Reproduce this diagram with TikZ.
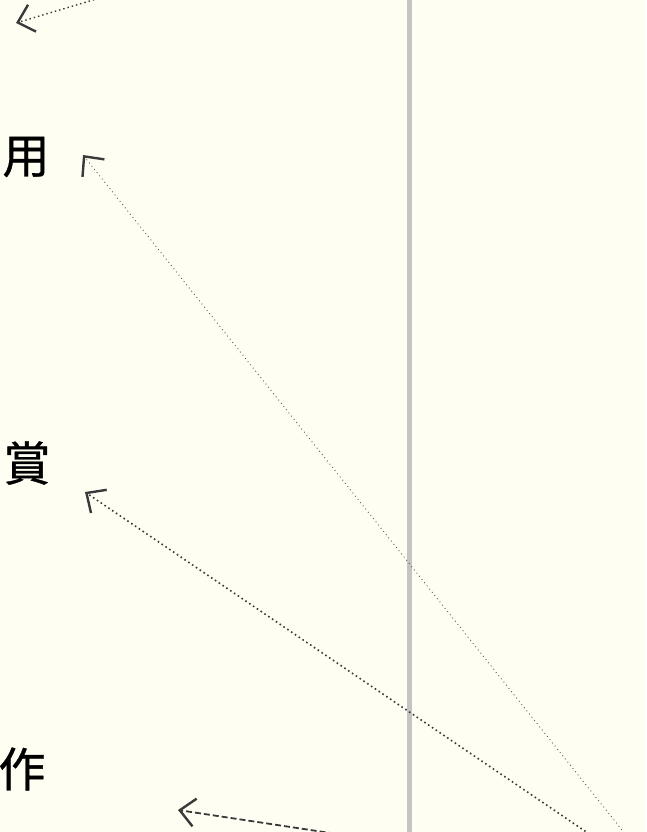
\documentclass[tikz,border=0pt]{standalone}
\usepackage{fontspec}
\newfontfamily\cjk[FakeBold=0.8]{Noto Sans CJK JP}
\usetikzlibrary{arrows.meta}
\definecolor{paper}{RGB}{254,254,243}
\definecolor{rail}{RGB}{196,196,196}
\definecolor{ink}{RGB}{58,58,58}
\tikzset{
	glyph/.style={font=\cjk\fontsize{47}{47}\selectfont, inner sep=0pt},
	barb/.style={-{Straight Barb[length=15pt,width=28pt,line width=2.4pt,color=ink]}},
}
\begin{document}
\begin{tikzpicture}[x=1pt,y=-1pt]
		\fill[paper] (0,0) rectangle (646,832);
		\useasboundingbox (0,0) rectangle (646,832);
		\draw[rail, line width=5pt] (409,0) -- (409,832);

		\node[glyph] (yo) at (26,157) {用};
		\node[glyph] (sho) at (27,463) {賞};
		\node[glyph] (saku) at (22,769) {作};

		\coordinate (yo tip) at (83,155);
		\coordinate (sho tip) at (85,492);
		\coordinate (saku tip) at (178,810);
		\coordinate (top tip) at (16,23);
		\coordinate (yo src) at (650,865);
		\coordinate (sho src) at (635,865);
		\coordinate (saku src) at (370,839);
		\coordinate (top src) at (170,-23);

		\draw[barb, ink!85, line width=0.9pt, dash pattern=on 0.9pt off 3.2pt] (yo src) -- (yo tip);
		\draw[barb, ink, line width=1.6pt, dash pattern=on 1.6pt off 3pt] (sho src) -- (sho tip);
		\draw[barb, ink, line width=1.4pt, dash pattern=on 1.4pt off 3pt] (top src) -- (top tip);
		\draw[barb, ink, line width=1.8pt, dash pattern=on 6pt off 3pt] (saku src) -- (saku tip);
		\end{tikzpicture}
\end{document}
